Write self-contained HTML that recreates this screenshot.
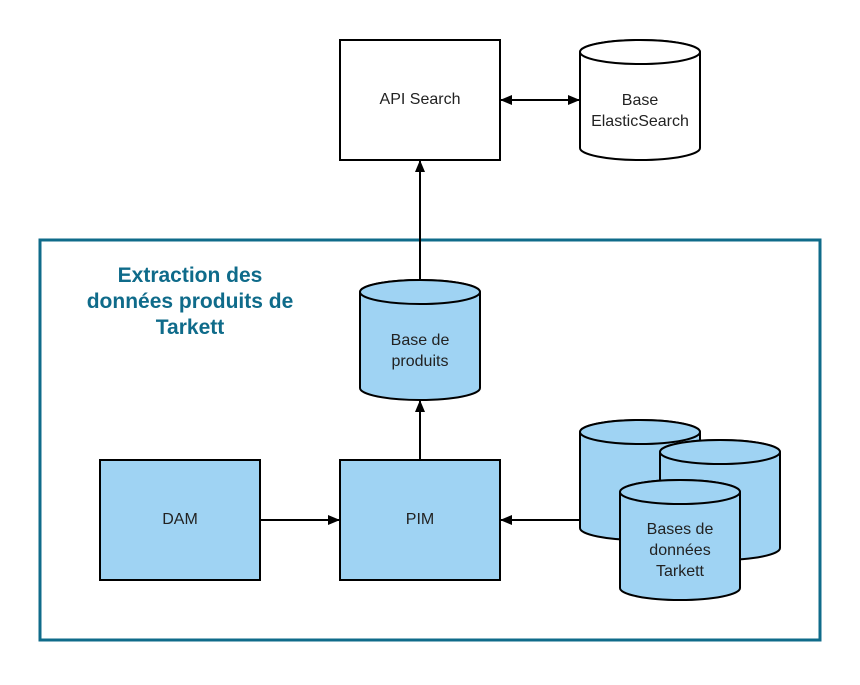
<!DOCTYPE html>
<html><head><style>body{margin:0;background:#fff}</style></head><body>
<svg width="860" height="680" xmlns="http://www.w3.org/2000/svg" font-family="Liberation Sans, sans-serif">
<defs><marker id="a" markerWidth="12" markerHeight="10" refX="11" refY="5" orient="auto-start-reverse" markerUnits="userSpaceOnUse"><path d="M0,0 L12,5 L0,10 Z" fill="#000"/></marker></defs>
<rect x="40" y="240" width="780" height="400" fill="none" stroke="#0f6b8a" stroke-width="3"/>
<g font-size="21" font-weight="bold" fill="#0f6b8a" text-anchor="middle">
<text x="190" y="282">Extraction des</text><text x="190" y="308">données produits de</text><text x="190" y="334">Tarkett</text></g>
<g stroke="#000" stroke-width="2">
<line x1="420" y1="280" x2="420" y2="161" marker-end="url(#a)"/>
<line x1="420" y1="460" x2="420" y2="401" marker-end="url(#a)"/>
<line x1="260" y1="520" x2="339" y2="520" marker-end="url(#a)"/>
<line x1="580" y1="520" x2="501" y2="520" marker-end="url(#a)"/>
<line x1="501" y1="100" x2="579" y2="100" marker-start="url(#a)" marker-end="url(#a)"/>
<rect x="340" y="40" width="160" height="120" fill="#fff"/>
<rect x="100" y="460" width="160" height="120" fill="#9fd3f3"/>
<rect x="340" y="460" width="160" height="120" fill="#9fd3f3"/>
<path d="M580,52 A60,12 0 0 1 700,52 V148 A60,12 0 0 1 580,148 Z" fill="#fff"/><ellipse cx="640" cy="52" rx="60" ry="12" fill="#fff"/>
<path d="M360,292 A60,12 0 0 1 480,292 V388 A60,12 0 0 1 360,388 Z" fill="#9fd3f3"/><ellipse cx="420" cy="292" rx="60" ry="12" fill="#9fd3f3"/>
<path d="M580,432 A60,12 0 0 1 700,432 V528 A60,12 0 0 1 580,528 Z" fill="#9fd3f3"/><ellipse cx="640" cy="432" rx="60" ry="12" fill="#9fd3f3"/>
<path d="M660,452 A60,12 0 0 1 780,452 V548 A60,12 0 0 1 660,548 Z" fill="#9fd3f3"/><ellipse cx="720" cy="452" rx="60" ry="12" fill="#9fd3f3"/>
<path d="M620,492 A60,12 0 0 1 740,492 V588 A60,12 0 0 1 620,588 Z" fill="#9fd3f3"/><ellipse cx="680" cy="492" rx="60" ry="12" fill="#9fd3f3"/>
</g>
<g font-size="16" fill="#222" text-anchor="middle">
<text x="420" y="104">API Search</text>
<text x="640" y="105">Base</text><text x="640" y="126">ElasticSearch</text>
<text x="420" y="345">Base de</text><text x="420" y="366">produits</text>
<text x="180" y="524">DAM</text>
<text x="420" y="524">PIM</text>
<text x="680" y="534">Bases de</text><text x="680" y="555">données</text><text x="680" y="576">Tarkett</text>
</g>
</svg>
</body></html>
